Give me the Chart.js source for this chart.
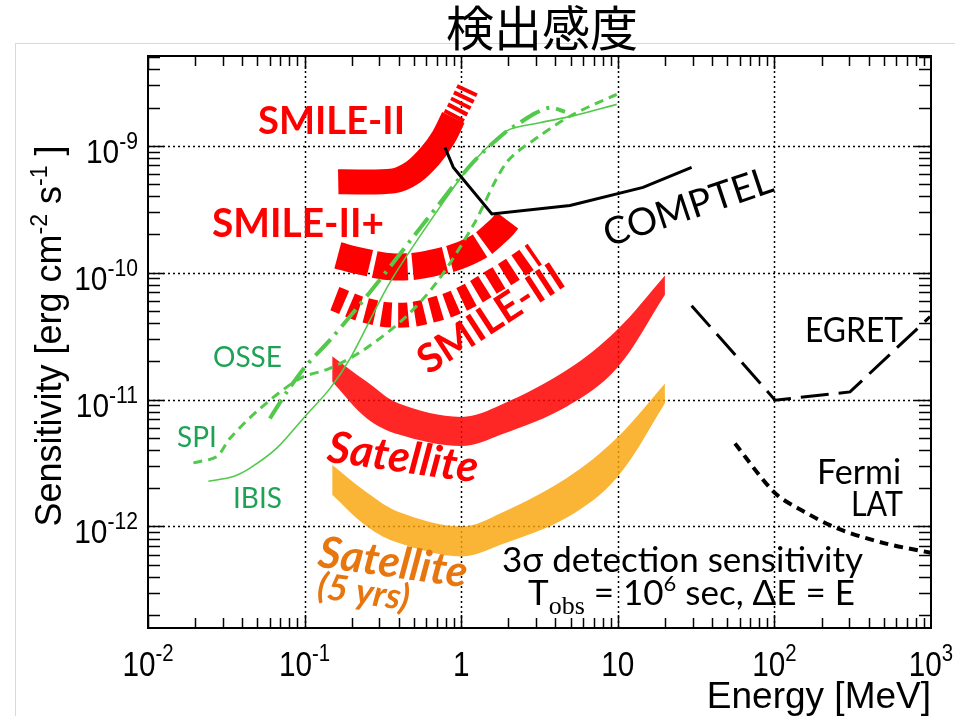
<!DOCTYPE html>
<html>
<head>
<meta charset="utf-8">
<script src="https://cdn.jsdelivr.net/npm/chart.js@4.4.0/dist/chart.umd.min.js"></script>
<style>
  html, body { margin: 0; padding: 0; background: #fff; }
  canvas { display: block; }
</style>
</head>
<body>
<canvas id="sensitivity" width="955" height="716"></canvas>
<script>
// Energy [MeV] / sensitivity [erg cm^-2 s^-1] pairs for each instrument
const smile2E = [0.164, 0.37, 0.494, 0.632, 0.769, 0.891];
const smile2S = [5.2e-10, 5.3e-10, 6.2e-10, 8.3e-10, 1.16e-9, 1.67e-9];
const smile2TailE = [0.891, 1.0, 1.11];
const smile2TailS = [1.67e-9, 2.19e-9, 2.87e-9];

const smile2pE = [0.163, 0.21, 0.377, 0.697, 1.22, 1.77, 2.05];
const smile2pS = [1.37e-10, 1.26e-10, 1.11e-10, 1.21e-10, 1.54e-10, 2.21e-10, 2.74e-10];

const smile3E = [0.156, 0.243, 0.396, 0.648, 1.03, 1.64, 2.15, 2.95];
const smile3S = [6.24e-11, 5.06e-11, 4.62e-11, 5.06e-11, 6.24e-11, 8.7e-11, 1.07e-10, 1.4e-10];

const satE = [0.15, 0.25, 0.4, 1.0, 1.8, 4.7, 9.8, 20];
const satHigh = [2.2e-11, 1.38e-11, 9.3e-12, 7.3e-12, 9.1e-12, 1.7e-11, 3.5e-11, 9.5e-11];
const satLow = [1.38e-11, 7.1e-12, 5.3e-12, 4.3e-12, 5.3e-12, 8.8e-12, 1.75e-11, 6.7e-11];
const sat5High = [3.06e-12, 1.85e-12, 1.3e-12, 1.0e-12, 1.28e-12, 2.4e-12, 4.95e-12, 1.34e-11];
const sat5Low = [1.78e-12, 1.0e-12, 7.4e-13, 5.8e-13, 7.2e-13, 1.17e-12, 2.4e-12, 9.3e-12];

const comptelE = [0.788, 0.891, 1.57, 4.95, 14.5, 29.6];
const comptelS = [9.7e-10, 6.76e-10, 2.9e-10, 3.38e-10, 4.7e-10, 6.76e-10];

const egretE = [29.6, 101, 304, 986];
const egretS = [5.5e-11, 9.9e-12, 1.15e-11, 4.5e-11];

const fermiE = [56, 101, 153, 250, 500, 1000];
const fermiS = [4.5e-12, 1.83e-12, 1.32e-12, 9.7e-13, 7.4e-13, 6.2e-13];

const ibisE = [0.0243, 0.0351, 0.0448, 0.0664, 0.098, 0.145, 0.195, 0.351, 0.769, 1.19, 1.95, 3.18, 5.2, 9.84];
const ibisS = [2.27e-12, 2.48e-12, 2.88e-12, 4.14e-12, 7.1e-12, 1.22e-11, 2.1e-11, 8.4e-11, 3.6e-10, 7.4e-10, 1.31e-9, 1.52e-9, 1.72e-9, 2.12e-9];

const spiE = [0.0195, 0.0275, 0.0334, 0.0519, 0.0935, 0.145, 0.237, 0.427, 0.698, 1.19, 1.95, 3.18, 5.2, 9.84];
const spiS = [3.17e-12, 3.56e-12, 4.96e-12, 8.5e-12, 1.47e-11, 1.76e-11, 2.45e-11, 4.3e-11, 8.4e-11, 2.35e-10, 7.4e-10, 1.2e-9, 1.77e-9, 2.54e-9];

const osseE = [0.06, 0.077, 0.103, 0.145, 0.273, 0.6, 1.19, 1.95, 2.37, 2.96, 3.69, 4.6];
const osseS = [7.1e-12, 1.15e-11, 1.87e-11, 2.94e-11, 7.5e-11, 2.6e-10, 7.4e-10, 1.3e-9, 1.52e-9, 1.8e-9, 2.0e-9, 1.85e-9];

// axis decades and their labels (base, exponent)
const xDecades = [1e-2, 1e-1, 1, 10, 100, 1000];
const xLabels = [['10', '-2'], ['10', '-1'], ['1', ''], ['10', ''], ['10', '2'], ['10', '3']];
const yDecades = [1e-12, 1e-11, 1e-10, 1e-9];
const yLabels = [['10', '-12'], ['10', '-11'], ['10', '-10'], ['10', '-9']];
const minorSteps = [1, 2, 3, 4, 5, 6, 7, 8, 9];

const RED = '#ff0000';
const GREEN_LINE = '#52c94a';
const GREEN_TEXT = '#1ea356';
const SANS = "'Liberation Sans', Arial, sans-serif";
const CAL = "Lato, 'Open Sans', sans-serif";

const pts = (xs, ys) => xs.map((x, i) => ({ x: x, y: ys[i] }));

// draws a run of text pieces (each with its own font and vertical shift) as one label
function drawRuns(ctx, runs, x, y, align, sx) {
    sx = sx || 1;
    let total = 0;
    runs.forEach(r => { ctx.font = r.font; r.w = ctx.measureText(r.t).width; total += r.w; });
    let start = align === 'right' ? -total : align === 'center' ? -total / 2 : 0;
    ctx.save();
    ctx.translate(x, y);
    ctx.scale(sx, 1);
    ctx.textBaseline = 'alphabetic';
    ctx.textAlign = 'left';
    runs.forEach(r => {
        ctx.font = r.font;
        ctx.fillText(r.t, start, r.dy || 0);
        start += r.w;
    });
    ctx.restore();
}

function drawLabel(ctx, text, x, y, o) {
    ctx.save();
    ctx.translate(x, y);
    if (o.rotate) ctx.rotate(o.rotate * Math.PI / 180);
    ctx.font = o.font;
    ctx.fillStyle = o.color || '#000';
    ctx.textAlign = o.align || 'left';
    ctx.textBaseline = o.baseline || 'alphabetic';
    if (o.width) ctx.fillText(text, 0, 0, o.width); else ctx.fillText(text, 0, 0);
    ctx.restore();
}

const backdrop = {
    id: 'backdrop',
    beforeDraw(chart) {
        const ctx = chart.ctx;
        ctx.save();
        ctx.strokeStyle = '#d9d9d9';
        ctx.lineWidth = 1;
        ctx.strokeRect(15.5, 43.5, 1000, 1000);
        ctx.restore();
    },
    beforeDatasetsDraw(chart) {
        const { ctx, chartArea: a, scales: { x, y } } = chart;
        ctx.save();
        ctx.strokeStyle = '#000';
        ctx.lineWidth = 1.5;
        ctx.setLineDash([2, 3]);
        xDecades.forEach(v => {
            const px = Math.round(x.getPixelForValue(v)) + 0.5;
            if (px <= a.left + 2 || px >= a.right - 2) return;
            ctx.beginPath(); ctx.moveTo(px, a.top); ctx.lineTo(px, a.bottom); ctx.stroke();
        });
        yDecades.forEach(v => {
            const py = Math.round(y.getPixelForValue(v)) + 0.5;
            ctx.beginPath(); ctx.moveTo(a.left, py); ctx.lineTo(a.right, py); ctx.stroke();
        });
        ctx.restore();
    }
};

const frame = {
    id: 'frame',
    afterDatasetsDraw(chart) {
        const { ctx, chartArea: a, scales: { x, y } } = chart;
        ctx.save();
        ctx.strokeStyle = '#000';
        ctx.lineWidth = 1.5;
        ctx.beginPath();
        for (let e = -2; e < 3; e++) {
            minorSteps.forEach(m => {
                const v = m * Math.pow(10, e);
                const px = Math.round(x.getPixelForValue(v)) + 0.5;
                const len = m === 1 ? 13 : 10;
                ctx.moveTo(px, a.bottom); ctx.lineTo(px, a.bottom - len);
                ctx.moveTo(px, a.top); ctx.lineTo(px, a.top + len);
            });
        }
        for (let e = -13; e < -8; e++) {
            minorSteps.forEach(m => {
                const v = m * Math.pow(10, e);
                if (v < y.min || v > y.max) return;
                const py = Math.round(y.getPixelForValue(v)) + 0.5;
                const len = m === 1 ? 16 : 12;
                ctx.moveTo(a.left, py); ctx.lineTo(a.left + len, py);
                ctx.moveTo(a.right, py); ctx.lineTo(a.right - len, py);
            });
        }
        ctx.stroke();
        ctx.lineWidth = 2;
        ctx.strokeRect(a.left, a.top, a.right - a.left, a.bottom - a.top);

        // tick labels
        ctx.fillStyle = '#000';
        xDecades.forEach((v, i) => {
            const px = x.getPixelForValue(v);
            const runs = [{ t: xLabels[i][0], font: '35px ' + SANS }];
            if (xLabels[i][1]) runs.push({ t: xLabels[i][1], font: '24px ' + SANS, dy: -15 });
            drawRuns(ctx, runs, px, a.bottom + 48, 'center', 0.85);
        });
        yDecades.forEach((v, i) => {
            const py = y.getPixelForValue(v);
            drawRuns(ctx, [
                { t: yLabels[i][0], font: '34px ' + SANS, dy: 0 },
                { t: yLabels[i][1], font: '24px ' + SANS, dy: -14 }
            ], a.left - 10, py + 17, 'right', 0.88);
        });

        // axis titles
        drawRuns(ctx, [{ t: 'Energy [MeV]', font: '37px ' + SANS }], a.right, 708, 'right', 1);
        ctx.save();
        ctx.translate(61, 336);
        ctx.rotate(-Math.PI / 2);
        drawRuns(ctx, [
            { t: 'Sensitivity [erg cm', font: '36px ' + SANS },
            { t: '-2', font: '23px ' + SANS, dy: -14 },
            { t: ' s', font: '36px ' + SANS },
            { t: '-1', font: '23px ' + SANS, dy: -14 },
            { t: ' ]', font: '36px ' + SANS }
        ], 0, 0, 'center', 1);
        ctx.restore();

        // page title
        drawLabel(ctx, '検出感度', 542, 46, { font: "48px 'Noto Sans CJK JP'", align: 'center' });

        // instrument labels
        drawLabel(ctx, 'SMILE-II', 258, 134, { font: 'bold 39px ' + CAL, color: RED, width: 147 });
        drawLabel(ctx, 'SMILE-II+', 212, 237, { font: 'bold 40px ' + CAL, color: RED, width: 172 });
        drawLabel(ctx, 'SMILE-III', 498, 330, { font: 'bold 40px ' + CAL, color: RED, align: 'center', rotate: -33, width: 178 });
        drawLabel(ctx, 'COMPTEL', 692, 219, { font: '38px ' + CAL, align: 'center', rotate: -18.5, width: 176 });
        drawLabel(ctx, 'EGRET', 805, 342, { font: '34px ' + CAL, width: 98 });
        drawLabel(ctx, 'Fermi', 817, 484, { font: '34px ' + CAL, width: 86 });
        drawLabel(ctx, 'LAT', 851, 516, { font: '34px ' + CAL, width: 52 });
        drawLabel(ctx, 'OSSE', 213, 367, { font: '28px ' + CAL, color: GREEN_TEXT, width: 69 });
        drawLabel(ctx, 'SPI', 177, 447, { font: '28px ' + CAL, color: GREEN_TEXT, width: 40 });
        drawLabel(ctx, 'IBIS', 233, 508, { font: '28px ' + CAL, color: GREEN_TEXT, width: 49 });
        drawLabel(ctx, 'Satellite', 401, 472, { font: 'italic bold 44px ' + CAL, color: RED, align: 'center', rotate: 8, width: 152 });
        drawLabel(ctx, 'Satellite', 391, 577, { font: 'italic bold 44px ' + CAL, color: '#e8760f', align: 'center', rotate: 8, width: 150 });
        drawLabel(ctx, '(5 yrs)', 362, 604, { font: 'italic bold 36px ' + CAL, color: '#e8760f', align: 'center', rotate: 8, width: 96 });

        drawLabel(ctx, '3σ detection sensitivity', 502, 572, { font: '35px ' + CAL, width: 366 });
        ctx.fillStyle = '#000';
        drawRuns(ctx, [
            { t: 'T', font: '35px ' + CAL },
            { t: 'obs', font: "26px 'Liberation Serif', serif", dy: 9 },
            { t: ' = 10', font: '35px ' + CAL },
            { t: '6', font: '22px ' + CAL, dy: -14 },
            { t: ' sec, ΔE = E', font: '35px ' + CAL }
        ], 528, 605, 'left', 1);
        ctx.restore();
    }
};

const ctx = document.getElementById('sensitivity').getContext('2d');

new Chart(ctx, {
    type: 'line',
    data: {
        datasets: [
            { label: 'COMPTEL', data: pts(comptelE, comptelS), borderColor: '#000', borderWidth: 3, order: 1 },
            { label: 'EGRET', data: pts(egretE, egretS), borderColor: '#000', borderWidth: 3, borderDash: [28, 10], order: 1 },
            { label: 'Fermi LAT', data: pts(fermiE, fermiS), borderColor: '#000', borderWidth: 4, borderDash: [9, 6], tension: 0.3, order: 1 },
            { label: 'IBIS', data: pts(ibisE, ibisS), borderColor: GREEN_LINE, borderWidth: 1.6, tension: 0.3, order: 3 },
            { label: 'SPI', data: pts(spiE, spiS), borderColor: GREEN_LINE, borderWidth: 3, borderDash: [9, 6], tension: 0.3, order: 3 },
            { label: 'OSSE', data: pts(osseE, osseS), borderColor: GREEN_LINE, borderWidth: 4, borderDash: [22, 7, 3, 7], tension: 0.3, order: 3 },
            { label: 'SMILE-II', data: pts(smile2E, smile2S), borderColor: RED, borderWidth: 25, tension: 0.35, order: 5 },
            { label: 'SMILE-II (ext)', data: pts(smile2TailE, smile2TailS), borderColor: RED, borderWidth: 22, borderDash: [4, 3], tension: 0.3, order: 5 },
            { label: 'SMILE-II+', data: pts(smile2pE, smile2pS), borderColor: RED, borderWidth: 27, borderDash: [33, 5], tension: 0.4, order: 5 },
            { label: 'SMILE-III', data: pts(smile3E, smile3S), borderColor: RED, borderWidth: 25, borderDash: [10, 6.5], tension: 0.4, order: 5 },
            { label: 'Satellite', data: pts(satE, satHigh), borderColor: 'transparent', borderWidth: 0, backgroundColor: 'rgba(255,0,0,0.85)', fill: '+1', tension: 0.35, order: 8 },
            { label: 'Satellite low', data: pts(satE, satLow), borderColor: 'transparent', borderWidth: 0, fill: false, tension: 0.35, order: 8 },
            { label: 'Satellite (5 yrs)', data: pts(satE, sat5High), borderColor: 'transparent', borderWidth: 0, backgroundColor: 'rgba(250,165,10,0.82)', fill: '+1', tension: 0.35, order: 9 },
            { label: 'Satellite (5 yrs) low', data: pts(satE, sat5Low), borderColor: 'transparent', borderWidth: 0, fill: false, tension: 0.35, order: 9 }
        ]
    },
    options: {
        responsive: false,
        animation: false,
        events: [],
        layout: { padding: { top: 56, right: 24, left: 0, bottom: 0 } },
        elements: { point: { radius: 0 } },
        plugins: { legend: { display: false }, tooltip: { enabled: false } },
        scales: {
            x: {
                type: 'logarithmic', min: 0.01, max: 1000,
                ticks: { display: false }, grid: { display: false }, border: { display: false },
                afterFit(scale) { scale.height = 88; }
            },
            y: {
                type: 'logarithmic', min: 1.585e-13, max: 5.1e-9,
                ticks: { display: false }, grid: { display: false }, border: { display: false },
                afterFit(scale) { scale.width = 148; }
            }
        }
    },
    plugins: [backdrop, frame]
});
</script>
</body>
</html>
